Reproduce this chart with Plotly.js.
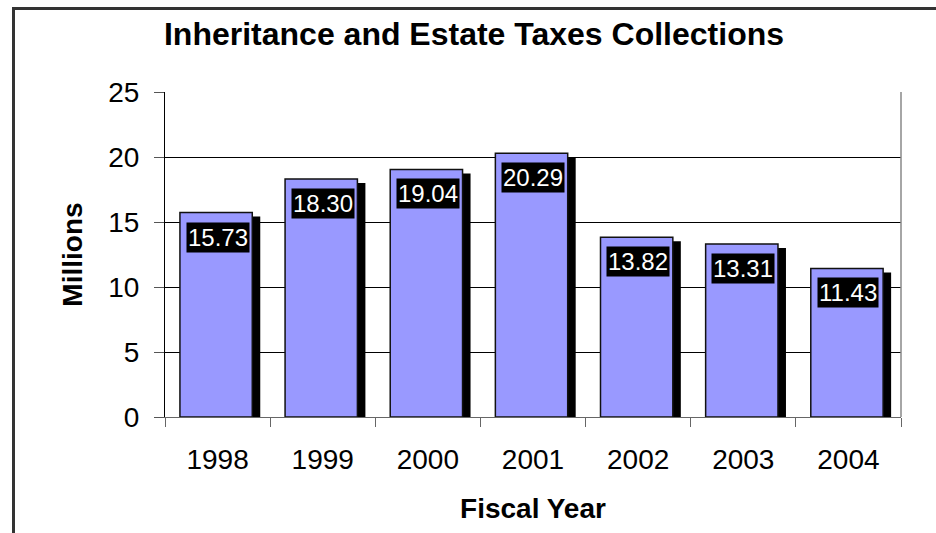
<!DOCTYPE html>
<html>
<head>
<meta charset="utf-8">
<script src="https://cdn.plot.ly/plotly-3.0.1.min.js"></script>
<style>html,body{margin:0;padding:0;background:#fff;}#chart{width:936px;height:533px;}</style>
</head>
<body>
<div id="chart"></div>
<script>
const years = ['1998', '1999', '2000', '2001', '2002', '2003', '2004'];
const collections = [15.73, 18.30, 19.04, 20.29, 13.82, 13.31, 11.43];
const valueLabels = ['15.73', '18.30', '19.04', '20.29', '13.82', '13.31', '11.43'];
const yTicks = [0, 5, 10, 15, 20, 25];

const W = 936, H = 533;
const M = {l: 165, r: 35, t: 92, b: 116};
const plotH = H - M.t - M.b;
const yMax = 25;
const shadowDropPx = 4;
const shadowDrop = shadowDropPx * yMax / plotH;

const font = 'Arial, "Liberation Sans", sans-serif';

const shadow = {
  type: 'bar', x: years, y: collections.map(v => v - shadowDrop),
  offset: -0.282, width: 0.688,
  marker: {color: '#000000', line: {width: 0}},
  hoverinfo: 'skip', showlegend: false
};
const bars = {
  type: 'bar', x: years, y: collections,
  offset: -0.358, width: 0.688,
  marker: {color: '#9999FF', line: {color: '#111111', width: 1.5}},
  showlegend: false
};

const annotations = years.map((yr, i) => ({
  x: i, y: collections[i], xref: 'x', yref: 'y',
  text: valueLabels[i], showarrow: false,
  yanchor: 'top', xanchor: 'center', yshift: -9, xshift: 0,
  bgcolor: '#000000', borderpad: 1,
  font: {family: font, size: 24, color: '#ffffff'}
}));

const layout = {
  width: W, height: H,
  margin: M,
  paper_bgcolor: '#ffffff', plot_bgcolor: '#ffffff',
  barmode: 'overlay',
  showlegend: false,
  title: {
    text: 'Inheritance and Estate Taxes Collections',
    font: {family: font, size: 32, color: '#000', weight: 700},
    xref: 'container', yref: 'container',
    x: 474 / W, xanchor: 'center', y: 1 - 34 / H, yanchor: 'middle'
  },
  xaxis: {
    type: 'category',
    categoryorder: 'array', categoryarray: years,
    range: [-0.5, years.length - 0.5],
    title: {text: 'Fiscal Year', font: {family: font, size: 28, color: '#000', weight: 700}, standoff: 24},
    tickfont: {family: font, size: 28, color: '#000'},
    tickangle: 0,
    ticks: 'outside', tickson: 'boundaries', ticklen: 9, tickcolor: '#666', tickwidth: 1,
    ticklabelstandoff: 17,
    showline: true, linecolor: '#666', linewidth: 1,
    showgrid: false, zeroline: false, fixedrange: true
  },
  yaxis: {
    range: [0, yMax],
    tickvals: yTicks, ticktext: yTicks.map(String),
    title: {text: 'Millions', font: {family: font, size: 28, color: '#000', weight: 700}, standoff: 17},
    tickfont: {family: font, size: 28, color: '#000'},
    ticks: 'outside', ticklen: 10, tickcolor: '#555', tickwidth: 1,
    ticklabelstandoff: 9,
    showline: true, linecolor: '#000', linewidth: 1,
    showgrid: true, gridcolor: '#000', gridwidth: 1,
    zeroline: false, fixedrange: true
  },
  shapes: [
    {type: 'line', xref: 'paper', yref: 'paper', x0: 1, x1: 1, y0: 0, y1: 1,
     line: {color: '#888', width: 1.5}},
    {type: 'rect', xref: 'paper', yref: 'paper',
     x0: (13.5 - M.l) / (W - M.l - M.r), x1: 1.5,
     y0: -1, y1: (H - M.b - 8.5) / plotH,
     line: {color: '#333', width: 3}, fillcolor: 'rgba(0,0,0,0)', layer: 'above'}
  ],
  annotations: annotations
};

Plotly.newPlot('chart', [shadow, bars], layout, {displayModeBar: false, staticPlot: true});
</script>
</body>
</html>
